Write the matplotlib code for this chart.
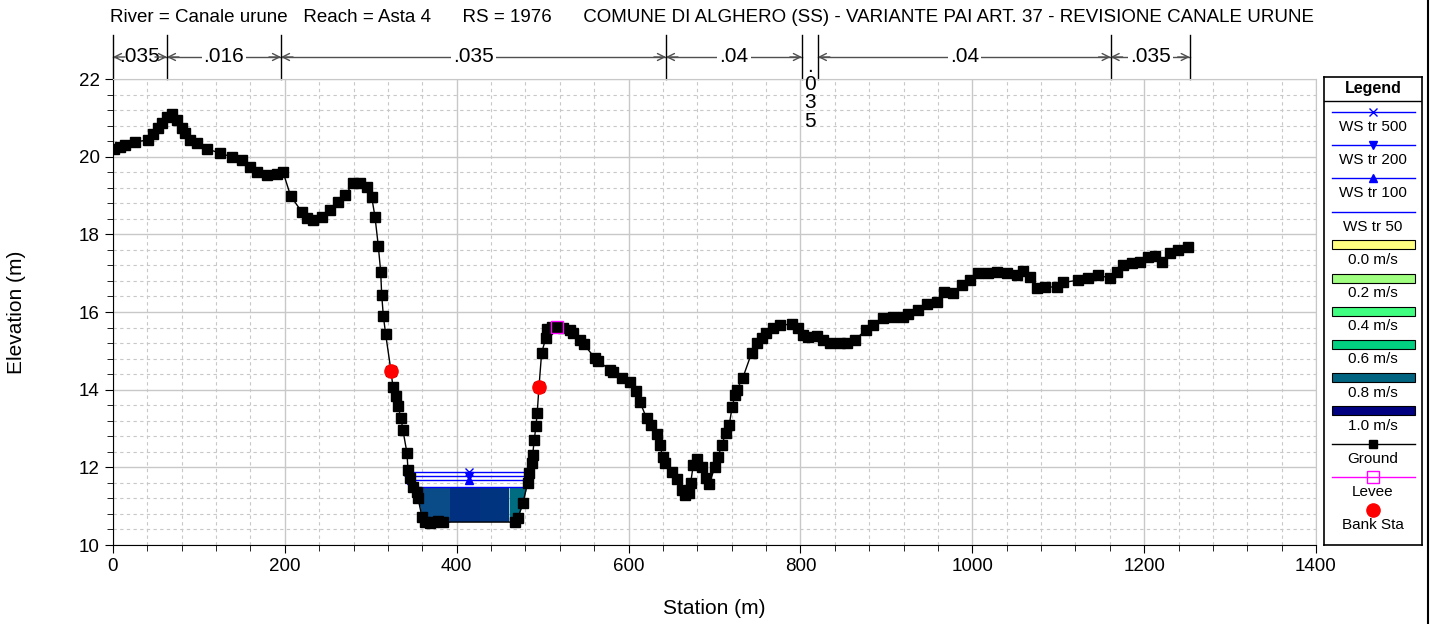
import matplotlib
matplotlib.use("Agg")
import matplotlib.pyplot as plt
import matplotlib.transforms as mtransforms
from matplotlib.lines import Line2D
from matplotlib.ticker import MultipleLocator
import numpy as np

plt.rcParams['font.family'] = ['Liberation Sans', 'DejaVu Sans']

# ground profile (station m, elevation m)
ground_sta = [1.2, 8.1, 14.0, 25.6, 40.7, 46.5, 52.4, 57.0, 62.8, 68.7, 74.5, 80.3, 83.8, 89.6,
              97.7, 109.4, 124.5, 138.5, 150.1, 159.4, 167.6, 179.2, 190.8, 197.8,
              206.7, 219.6, 225.4, 233.1, 242.8, 252.5, 262.2, 269.9, 279.6, 287.4, 295.2,
              301.0, 304.9, 308.7, 311.5, 312.7, 314.6, 317.3, 323.5, 325.8, 329.3, 331.6,
              335.1, 337.4, 342.1, 343.3, 345.6, 349.1, 353.7, 354.9, 359.6, 363.0, 368.9,
              372.4, 378.2, 384.0, 467.8, 471.3, 477.1, 482.5, 484.4, 487.2, 488.4, 490.2,
              492.2, 493.7, 495.7, 498.8, 503.5, 504.6, 510.5, 517.0, 524.0, 531.8, 535.6,
              543.4, 548.0, 560.9, 564.7, 578.3, 582.2, 591.9, 601.6, 608.6, 613.2, 621.0,
              625.7, 632.7, 636.5, 639.6, 642.3, 650.1, 656.6, 661.7, 665.6, 670.6, 672.2,
              675.3, 679.2, 685.0, 690.0, 693.9, 700.5, 704.3, 708.3, 713.3, 717.1, 720.6,
              723.8, 725.7, 732.7, 743.1, 748.9, 754.8, 759.8, 768.3, 776.1, 789.7, 797.4,
              803.2, 809.0, 818.8, 826.5, 834.3, 845.9, 853.7, 863.4, 876.2, 884.7, 896.3,
              908.0, 919.6, 925.4, 937.0, 946.8, 958.4, 966.9, 977.8, 987.6, 997.2, 1006.9,
              1018.6, 1028.4, 1040.0, 1051.7, 1058.7, 1067.2, 1075.0, 1084.5, 1098.1, 1105.8,
              1123.3, 1134.9, 1146.6, 1160.2, 1168.0, 1175.7, 1185.4, 1195.0, 1204.7, 1212.5,
              1220.3, 1229.9, 1239.6, 1251.3]
ground_elev = [20.20, 20.25, 20.30, 20.38, 20.43, 20.58, 20.74, 20.87, 21.02, 21.10, 20.94, 20.74, 20.61, 20.43,
               20.35, 20.20, 20.09, 19.99, 19.91, 19.73, 19.61, 19.53, 19.55, 19.61,
               18.99, 18.58, 18.41, 18.37, 18.45, 18.63, 18.84, 19.01, 19.31, 19.31, 19.21,
               18.97, 18.45, 17.71, 17.04, 16.44, 15.90, 15.43, 14.48, 14.07, 13.84, 13.58,
               13.27, 12.96, 12.37, 11.93, 11.73, 11.49, 11.37, 11.21, 10.72, 10.59, 10.57,
               10.59, 10.62, 10.59, 10.59, 10.70, 11.08, 11.60, 11.85, 12.10, 12.32, 12.70,
               13.06, 13.41, 14.06, 14.94, 15.32, 15.55, 15.62, 15.62, 15.58, 15.54, 15.45,
               15.28, 15.17, 14.81, 14.74, 14.51, 14.46, 14.29, 14.21, 13.97, 13.69, 13.26,
               13.09, 12.85, 12.58, 12.27, 12.10, 11.89, 11.69, 11.42, 11.29, 11.33, 11.59,
               12.06, 12.21, 12.02, 11.72, 11.57, 12.02, 12.27, 12.58, 12.88, 13.09, 13.56,
               13.86, 13.99, 14.29, 14.94, 15.19, 15.32, 15.45, 15.58, 15.67, 15.68, 15.58,
               15.41, 15.36, 15.38, 15.28, 15.21, 15.21, 15.19, 15.28, 15.54, 15.67, 15.84,
               15.88, 15.86, 15.95, 16.05, 16.21, 16.27, 16.52, 16.50, 16.70, 16.82, 17.00,
               17.01, 17.04, 17.00, 16.95, 17.06, 16.91, 16.61, 16.65, 16.64, 16.76,
               16.82, 16.87, 16.95, 16.87, 17.04, 17.21, 17.25, 17.30, 17.42, 17.44,
               17.30, 17.51, 17.60, 17.67]

bank_sta = [323.5, 495.7]
levee_sta = [517.0]
levee_elev = [15.62]

# water surfaces (m)
ws_names = ["WS tr 500", "WS tr 200", "WS tr 100", "WS tr 50"]
ws_elev = [11.88, 11.78, 11.67, 11.50]
ws_markers = ["x", "v", "^", None]

# velocity slices under WS tr 50: interior breaks (station) and colours
vel_breaks = [392.0, 427.0, 461.0]
vel_colors = ["#0a4c88", "#00307f", "#01347f", "#006c80"]

vel_legend = ["0.0 m/s", "0.2 m/s", "0.4 m/s", "0.6 m/s", "0.8 m/s", "1.0 m/s"]
vel_legend_colors = ["#ffff80", "#a0ff80", "#40ff80", "#00d080", "#006480", "#000080"]

# Manning's n along the section
n_breaks = [0.0, 62.8, 195.5, 643.5, 801.7, 820.3, 1161.0, 1253.0]
n_values = [".035", ".016", ".035", ".04", ".035", ".04", ".035"]

title = ("River = Canale urune   Reach = Asta 4      RS = 1976      "
         "COMUNE DI ALGHERO (SS) - VARIANTE PAI ART. 37 - REVISIONE CANALE URUNE")

W, H = 1431, 624
fig = plt.figure(figsize=(W / 100, H / 100), dpi=100)
ax = fig.add_axes([113 / W, 1 - 545 / H, (1316 - 113) / W, (545 - 79) / H])

sta = np.array(ground_sta)
elev = np.array(ground_elev)


def crossings(level):
    # where the ground crosses a level inside the main channel
    pts = []
    for i in range(len(sta) - 1):
        if sta[i] < 320 or sta[i + 1] > 500:
            continue
        e0, e1 = elev[i] - level, elev[i + 1] - level
        if e0 * e1 < 0:
            pts.append(sta[i] + (sta[i + 1] - sta[i]) * e0 / (e0 - e1))
    return min(pts), max(pts)


# velocity-coloured flow area
lo, hi = crossings(ws_elev[-1])
edges = [lo] + vel_breaks + [hi]
for k in range(len(edges) - 1):
    xs = np.linspace(edges[k], edges[k + 1], 60)
    ax.fill_between(xs, np.interp(xs, sta, elev), ws_elev[-1], color=vel_colors[k],
                    lw=0, zorder=2)

# water surface lines
for name, wse, mk in zip(ws_names, ws_elev, ws_markers):
    a, b = crossings(wse)
    ax.plot([a, b], [wse, wse], color="#0000ff", lw=1, zorder=3)
    if mk:
        ax.plot([a, (a + b) / 2, b], [wse] * 3, ls="none", marker=mk, color="#0000ff",
                ms=6, mew=1, zorder=3)

# ground
ax.plot(sta, elev, color="black", lw=1, marker="s", ms=6.5, zorder=4)
ax.plot(bank_sta, np.interp(bank_sta, sta, elev), ls="none", marker="o", color="#ff0000",
        ms=9.5, zorder=5)
ax.plot(levee_sta, levee_elev, ls="none", marker="s", ms=9, mfc="none", mec="#ff00ff",
        mew=1, zorder=5)

ax.set_xlim(0, 1400)
ax.set_ylim(10, 22)
ax.xaxis.set_major_locator(MultipleLocator(200))
ax.xaxis.set_minor_locator(MultipleLocator(40))
ax.yaxis.set_major_locator(MultipleLocator(2))
ax.yaxis.set_minor_locator(MultipleLocator(0.4))
ax.grid(which="major", color="#c8c8c8", lw=1, ls="-", zorder=0)
ax.grid(which="minor", color="#c8c8c8", lw=0.8, ls=(0, (3, 3)), zorder=0)
ax.set_axisbelow(True)
ax.tick_params(which="both", direction="out", color="black", labelsize=13.5)
ax.tick_params(which="major", length=6)
ax.tick_params(which="minor", length=4)
for s in ["top", "right"]:
    ax.spines[s].set_color("#c8c8c8")
ax.set_xlabel("Station (m)", fontsize=15, va="center")
ax.set_ylabel("Elevation (m)", fontsize=15, va="center")
ax.xaxis.set_label_coords(0.5, -(609 - 545) / 466)
ax.yaxis.set_label_coords(-(113 - 17) / 1203, 0.5)

# Manning's n band above the plot
tr = mtransforms.blended_transform_factory(ax.transData, ax.transAxes)
y_top, y_arr = 1 + 44 / 466, 1 + 22 / 466
for x in n_breaks:
    ax.plot([x, x], [1.0, y_top], color="black", lw=1, transform=tr, clip_on=False)
for a, b, lab in zip(n_breaks[:-1], n_breaks[1:], n_values):
    if b - a < 30:
        ax.text((a + b) / 2, 1 + 22 / 466, "\n".join(lab), transform=tr, ha="center",
                va="top", fontsize=15, linespacing=0.95)
        continue
    ax.plot([a, b], [y_arr, y_arr], color="#505050", lw=1, transform=tr, clip_on=False,
            zorder=1)
    ax.text((a + b) / 2, y_arr, lab, transform=tr, ha="center", va="center", fontsize=15,
            bbox=dict(fc="white", ec="none", pad=1.5), zorder=2)
    d = 14
    ax.annotate("", xy=(b, y_arr), xytext=(b - d, y_arr), xycoords=tr, textcoords=tr,
                arrowprops=dict(arrowstyle="->,head_length=0.5,head_width=0.25",
                                color="#505050", lw=1, shrinkA=0, shrinkB=0),
                annotation_clip=False)
    ax.annotate("", xy=(a, y_arr), xytext=(a + d, y_arr), xycoords=tr, textcoords=tr,
                arrowprops=dict(arrowstyle="->,head_length=0.5,head_width=0.25",
                                color="#505050", lw=1, shrinkA=0, shrinkB=0),
                annotation_clip=False)

fig.text((107 + 1316) / 2 / W, 1 - 17 / H, title, ha="center", va="center", fontsize=13.5)

# legend panel (pixel layout inside its own axes)
lg = fig.add_axes([1324 / W, 1 - 545 / H, 98 / W, 468 / H])
lg.set_xlim(0, 98)
lg.set_ylim(468, 0)
lg.set_xticks([])
lg.set_yticks([])
for s in lg.spines.values():
    s.set_linewidth(1.2)
lg.text(49, 12, "Legend", ha="center", va="center", fontsize=11.5, fontweight="bold")
lg.plot([0, 98], [24, 24], color="black", lw=1)

step = 33.2
row = 0
for name, mk in zip(ws_names, ws_markers):
    y = 35 + step * row
    lg.plot([8, 91], [y, y], color="#0000ff", lw=1)
    if mk:
        lg.plot([49], [y], marker=mk, color="#0000ff", ms=6)
    lg.text(49, y + 15, name, ha="center", va="center", fontsize=11)
    row += 1
for name, c in zip(vel_legend, vel_legend_colors):
    y = 35 + step * row
    lg.add_patch(plt.Rectangle((8, y - 4.5), 83, 9, fc=c, ec="black", lw=0.8))
    lg.text(49, y + 15, name, ha="center", va="center", fontsize=11)
    row += 1
y = 35 + step * row
lg.plot([8, 91], [y, y], color="black", lw=1)
lg.plot([49], [y], marker="s", color="black", ms=6)
lg.text(49, y + 15, "Ground", ha="center", va="center", fontsize=11)
row += 1
y = 35 + step * row
lg.plot([8, 91], [y, y], color="#ff00ff", lw=1)
lg.plot([49], [y], marker="s", mfc="none", mec="#ff00ff", ms=9)
lg.text(49, y + 15, "Levee", ha="center", va="center", fontsize=11)
row += 1
y = 35 + step * row
lg.plot([49], [y], marker="o", color="#ff0000", ms=9.5)
lg.text(49, y + 15, "Bank Sta", ha="center", va="center", fontsize=11)

fig.add_artist(Line2D([1427.5 / W] * 2, [0, 1], color="black", lw=1.5,
                      transform=fig.transFigure))

fig.savefig("out.png", dpi=100)
